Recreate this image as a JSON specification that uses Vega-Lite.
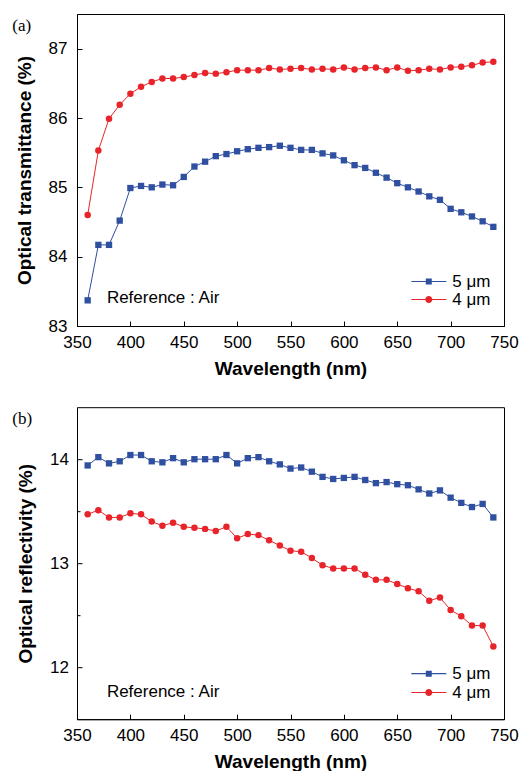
{
  "$schema": "https://vega.github.io/schema/vega-lite/v6.json",
  "padding": {"left": 11, "top": 13, "right": 0, "bottom": 0},
  "spacing": 27.2,
  "resolve": {"scale": {"color": "independent", "shape": "independent"}},
  "config": {
    "font": "Liberation Sans",
    "view": {"stroke": "black", "strokeWidth": 1},
    "axis": {"grid": false, "domainColor": "black", "tickColor": "black", "labelColor": "black", "titleColor": "black", "labelFont": "Liberation Sans", "labelFontSize": 17, "titleFont": "Liberation Sans", "titleFontSize": 19, "titleFontWeight": "bold", "labelFlush": false, "labelOverlap": false, "tickWidth": 1, "domainWidth": 1, "format": "d"},
    "legend": {"symbolSize": 225, "labelOffset": 15, "labelFontSize": 17, "labelFont": "Liberation Sans", "labelColor": "black", "rowPadding": 0, "padding": 0, "symbolStrokeWidth": 0},
    "title": {"font": "Liberation Serif", "fontSize": 17, "fontWeight": "normal", "color": "black", "anchor": "start", "frame": "group", "offset": 0, "dx": -64.7, "dy": 25, "baseline": "alphabetic"}
  },
  "datasets": {
    "trans": [
      {"wl":360,"s":"5 μm","v":83.37},{"wl":370,"s":"5 μm","v":84.17},{"wl":380,"s":"5 μm","v":84.17},{"wl":390,"s":"5 μm","v":84.52},{"wl":400,"s":"5 μm","v":84.99},{"wl":410,"s":"5 μm","v":85.02},{"wl":420,"s":"5 μm","v":85.00},{"wl":430,"s":"5 μm","v":85.04},{"wl":440,"s":"5 μm","v":85.03},{"wl":450,"s":"5 μm","v":85.15},{"wl":460,"s":"5 μm","v":85.30},{"wl":470,"s":"5 μm","v":85.37},{"wl":480,"s":"5 μm","v":85.45},{"wl":490,"s":"5 μm","v":85.48},{"wl":500,"s":"5 μm","v":85.52},{"wl":510,"s":"5 μm","v":85.55},{"wl":520,"s":"5 μm","v":85.57},{"wl":530,"s":"5 μm","v":85.58},{"wl":540,"s":"5 μm","v":85.60},{"wl":550,"s":"5 μm","v":85.57},{"wl":560,"s":"5 μm","v":85.54},{"wl":570,"s":"5 μm","v":85.54},{"wl":580,"s":"5 μm","v":85.49},{"wl":590,"s":"5 μm","v":85.46},{"wl":600,"s":"5 μm","v":85.39},{"wl":610,"s":"5 μm","v":85.32},{"wl":620,"s":"5 μm","v":85.28},{"wl":630,"s":"5 μm","v":85.21},{"wl":640,"s":"5 μm","v":85.14},{"wl":650,"s":"5 μm","v":85.06},{"wl":660,"s":"5 μm","v":85.00},{"wl":670,"s":"5 μm","v":84.94},{"wl":680,"s":"5 μm","v":84.87},{"wl":690,"s":"5 μm","v":84.82},{"wl":700,"s":"5 μm","v":84.69},{"wl":710,"s":"5 μm","v":84.64},{"wl":720,"s":"5 μm","v":84.58},{"wl":730,"s":"5 μm","v":84.51},{"wl":740,"s":"5 μm","v":84.43},
      {"wl":360,"s":"4 μm","v":84.60},{"wl":370,"s":"4 μm","v":85.53},{"wl":380,"s":"4 μm","v":85.99},{"wl":390,"s":"4 μm","v":86.19},{"wl":400,"s":"4 μm","v":86.35},{"wl":410,"s":"4 μm","v":86.45},{"wl":420,"s":"4 μm","v":86.52},{"wl":430,"s":"4 μm","v":86.57},{"wl":440,"s":"4 μm","v":86.57},{"wl":450,"s":"4 μm","v":86.59},{"wl":460,"s":"4 μm","v":86.62},{"wl":470,"s":"4 μm","v":86.65},{"wl":480,"s":"4 μm","v":86.64},{"wl":490,"s":"4 μm","v":86.66},{"wl":500,"s":"4 μm","v":86.69},{"wl":510,"s":"4 μm","v":86.69},{"wl":520,"s":"4 μm","v":86.69},{"wl":530,"s":"4 μm","v":86.72},{"wl":540,"s":"4 μm","v":86.70},{"wl":550,"s":"4 μm","v":86.71},{"wl":560,"s":"4 μm","v":86.72},{"wl":570,"s":"4 μm","v":86.70},{"wl":580,"s":"4 μm","v":86.71},{"wl":590,"s":"4 μm","v":86.70},{"wl":600,"s":"4 μm","v":86.73},{"wl":610,"s":"4 μm","v":86.70},{"wl":620,"s":"4 μm","v":86.72},{"wl":630,"s":"4 μm","v":86.73},{"wl":640,"s":"4 μm","v":86.69},{"wl":650,"s":"4 μm","v":86.73},{"wl":660,"s":"4 μm","v":86.68},{"wl":670,"s":"4 μm","v":86.69},{"wl":680,"s":"4 μm","v":86.71},{"wl":690,"s":"4 μm","v":86.70},{"wl":700,"s":"4 μm","v":86.73},{"wl":710,"s":"4 μm","v":86.74},{"wl":720,"s":"4 μm","v":86.76},{"wl":730,"s":"4 μm","v":86.80},{"wl":740,"s":"4 μm","v":86.81}
    ],
    "refl": [
      {"wl":360,"s":"5 μm","v":13.94},{"wl":370,"s":"5 μm","v":14.02},{"wl":380,"s":"5 μm","v":13.96},{"wl":390,"s":"5 μm","v":13.98},{"wl":400,"s":"5 μm","v":14.04},{"wl":410,"s":"5 μm","v":14.04},{"wl":420,"s":"5 μm","v":13.98},{"wl":430,"s":"5 μm","v":13.97},{"wl":440,"s":"5 μm","v":14.01},{"wl":450,"s":"5 μm","v":13.97},{"wl":460,"s":"5 μm","v":14.00},{"wl":470,"s":"5 μm","v":14.00},{"wl":480,"s":"5 μm","v":14.00},{"wl":490,"s":"5 μm","v":14.04},{"wl":500,"s":"5 μm","v":13.96},{"wl":510,"s":"5 μm","v":14.01},{"wl":520,"s":"5 μm","v":14.02},{"wl":530,"s":"5 μm","v":13.98},{"wl":540,"s":"5 μm","v":13.95},{"wl":550,"s":"5 μm","v":13.91},{"wl":560,"s":"5 μm","v":13.92},{"wl":570,"s":"5 μm","v":13.88},{"wl":580,"s":"5 μm","v":13.83},{"wl":590,"s":"5 μm","v":13.81},{"wl":600,"s":"5 μm","v":13.82},{"wl":610,"s":"5 μm","v":13.83},{"wl":620,"s":"5 μm","v":13.80},{"wl":630,"s":"5 μm","v":13.77},{"wl":640,"s":"5 μm","v":13.78},{"wl":650,"s":"5 μm","v":13.76},{"wl":660,"s":"5 μm","v":13.75},{"wl":670,"s":"5 μm","v":13.71},{"wl":680,"s":"5 μm","v":13.67},{"wl":690,"s":"5 μm","v":13.70},{"wl":700,"s":"5 μm","v":13.63},{"wl":710,"s":"5 μm","v":13.58},{"wl":720,"s":"5 μm","v":13.54},{"wl":730,"s":"5 μm","v":13.57},{"wl":740,"s":"5 μm","v":13.44},
      {"wl":360,"s":"4 μm","v":13.47},{"wl":370,"s":"4 μm","v":13.51},{"wl":380,"s":"4 μm","v":13.44},{"wl":390,"s":"4 μm","v":13.44},{"wl":400,"s":"4 μm","v":13.48},{"wl":410,"s":"4 μm","v":13.47},{"wl":420,"s":"4 μm","v":13.40},{"wl":430,"s":"4 μm","v":13.36},{"wl":440,"s":"4 μm","v":13.39},{"wl":450,"s":"4 μm","v":13.35},{"wl":460,"s":"4 μm","v":13.34},{"wl":470,"s":"4 μm","v":13.33},{"wl":480,"s":"4 μm","v":13.31},{"wl":490,"s":"4 μm","v":13.35},{"wl":500,"s":"4 μm","v":13.24},{"wl":510,"s":"4 μm","v":13.28},{"wl":520,"s":"4 μm","v":13.27},{"wl":530,"s":"4 μm","v":13.22},{"wl":540,"s":"4 μm","v":13.17},{"wl":550,"s":"4 μm","v":13.12},{"wl":560,"s":"4 μm","v":13.11},{"wl":570,"s":"4 μm","v":13.05},{"wl":580,"s":"4 μm","v":12.98},{"wl":590,"s":"4 μm","v":12.95},{"wl":600,"s":"4 μm","v":12.95},{"wl":610,"s":"4 μm","v":12.95},{"wl":620,"s":"4 μm","v":12.89},{"wl":630,"s":"4 μm","v":12.84},{"wl":640,"s":"4 μm","v":12.84},{"wl":650,"s":"4 μm","v":12.80},{"wl":660,"s":"4 μm","v":12.76},{"wl":670,"s":"4 μm","v":12.73},{"wl":680,"s":"4 μm","v":12.64},{"wl":690,"s":"4 μm","v":12.67},{"wl":700,"s":"4 μm","v":12.55},{"wl":710,"s":"4 μm","v":12.49},{"wl":720,"s":"4 μm","v":12.40},{"wl":730,"s":"4 μm","v":12.40},{"wl":740,"s":"4 μm","v":12.20}
    ]
  },
  "vconcat": [
    {
      "width": 427, "height": 312,
      "title": "(a)",
      "data": {"name": "trans"},
      "layer": [
        {
          "mark": {"type": "line", "strokeWidth": 1},
          "encoding": {
            "x": {"field": "wl", "type": "quantitative", "scale": {"domain": [350, 750], "nice": false, "zero": false},
              "axis": {"title": "Wavelength (nm)", "values": [350,375,400,425,450,475,500,525,550,575,600,625,650,675,700,725,750], "labelExpr": "datum.value % 50 === 0 ? datum.label : ''", "tickSize": {"condition": {"test": "datum.value % 50 === 0", "value": -5}, "value": -3}, "labelPadding": 13, "titlePadding": 9}},
            "y": {"field": "v", "type": "quantitative", "scale": {"domain": [83, 87.5], "nice": false, "zero": false},
              "axis": {"title": "Optical transmittance (%)", "values": [83,83.5,84,84.5,85,85.5,86,86.5,87], "labelExpr": "datum.value % 1 === 0 ? datum.label : ''", "tickSize": {"condition": {"test": "datum.value % 1 === 0", "value": -5}, "value": -3}, "labelPadding": 15, "titlePadding": 14}},
            "color": {"field": "s", "type": "nominal", "scale": {"domain": ["5 μm", "4 μm"], "range": ["#2f4fa0", "#e8242a"]}}
          }
        },
        {
          "transform": [{"filter": "datum.s === '5 μm'"}],
          "mark": {"type": "point", "filled": true, "opacity": 1, "size": 40, "shape": "square"},
          "encoding": {
            "x": {"field": "wl", "type": "quantitative"},
            "y": {"field": "v", "type": "quantitative"},
            "color": {"field": "s", "type": "nominal", "scale": {"domain": ["5 μm", "4 μm"], "range": ["#2f4fa0", "#e8242a"]}}
          }
        },
        {
          "transform": [{"filter": "datum.s === '4 μm'"}],
          "mark": {"type": "point", "filled": true, "opacity": 1, "size": 42, "shape": "circle"},
          "encoding": {
            "x": {"field": "wl", "type": "quantitative"},
            "y": {"field": "v", "type": "quantitative"},
            "color": {"field": "s", "type": "nominal", "scale": {"domain": ["5 μm", "4 μm"], "range": ["#2f4fa0", "#e8242a"]}}
          }
        },
        {
          "data": {"values": []},
          "mark": {"type": "point", "filled": true, "opacity": 1},
          "encoding": {
            "color": {"field": "s", "type": "nominal", "scale": {"domain": ["5 μm", "4 μm"], "range": ["#2f4fa0", "#e8242a"]},
              "legend": {"title": null, "orient": "none", "legendX": 343.3, "legendY": 259}},
            "shape": {"field": "s", "type": "nominal", "scale": {"domain": ["5 μm", "4 μm"], "range": ["M-2.33,-0.08H2.33V0.08H-2.33ZM-0.4,-0.4H0.4V0.4H-0.4Z", "M-2.33,-0.08H2.33V0.08H-2.33ZM0.47,0A0.47,0.47,0,1,1,-0.47,0A0.47,0.47,0,1,1,0.47,0Z"]},
              "legend": {"title": null, "orient": "none", "legendX": 343.3, "legendY": 259}}
          }
        },
        {
          "data": {"values": [{"wl": 378, "v": 83.338, "t": "Reference : Air"}]},
          "mark": {"type": "text", "align": "left", "baseline": "alphabetic", "fontSize": 17, "color": "black", "font": "Liberation Sans"},
          "encoding": {"x": {"field": "wl", "type": "quantitative"}, "y": {"field": "v", "type": "quantitative"}, "text": {"field": "t"}}
        }
      ]
    },
    {
      "width": 427, "height": 312,
      "title": "(b)",
      "data": {"name": "refl"},
      "layer": [
        {
          "mark": {"type": "line", "strokeWidth": 1},
          "encoding": {
            "x": {"field": "wl", "type": "quantitative", "scale": {"domain": [350, 750], "nice": false, "zero": false},
              "axis": {"title": "Wavelength (nm)", "values": [350,375,400,425,450,475,500,525,550,575,600,625,650,675,700,725,750], "labelExpr": "datum.value % 50 === 0 ? datum.label : ''", "tickSize": {"condition": {"test": "datum.value % 50 === 0", "value": -5}, "value": -3}, "labelPadding": 13, "titlePadding": 9}},
            "y": {"field": "v", "type": "quantitative", "scale": {"domain": [11.5, 14.5], "nice": false, "zero": false},
              "axis": {"title": "Optical reflectivity (%)", "values": [12,12.5,13,13.5,14], "labelExpr": "datum.value % 1 === 0 ? datum.label : ''", "tickSize": {"condition": {"test": "datum.value % 1 === 0", "value": -5}, "value": -3}, "labelPadding": 13.5, "titlePadding": 14}},
            "color": {"field": "s", "type": "nominal", "scale": {"domain": ["5 μm", "4 μm"], "range": ["#2f4fa0", "#e8242a"]}}
          }
        },
        {
          "transform": [{"filter": "datum.s === '5 μm'"}],
          "mark": {"type": "point", "filled": true, "opacity": 1, "size": 40, "shape": "square"},
          "encoding": {
            "x": {"field": "wl", "type": "quantitative"},
            "y": {"field": "v", "type": "quantitative"},
            "color": {"field": "s", "type": "nominal", "scale": {"domain": ["5 μm", "4 μm"], "range": ["#2f4fa0", "#e8242a"]}}
          }
        },
        {
          "transform": [{"filter": "datum.s === '4 μm'"}],
          "mark": {"type": "point", "filled": true, "opacity": 1, "size": 42, "shape": "circle"},
          "encoding": {
            "x": {"field": "wl", "type": "quantitative"},
            "y": {"field": "v", "type": "quantitative"},
            "color": {"field": "s", "type": "nominal", "scale": {"domain": ["5 μm", "4 μm"], "range": ["#2f4fa0", "#e8242a"]}}
          }
        },
        {
          "data": {"values": []},
          "mark": {"type": "point", "filled": true, "opacity": 1},
          "encoding": {
            "color": {"field": "s", "type": "nominal", "scale": {"domain": ["5 μm", "4 μm"], "range": ["#2f4fa0", "#e8242a"]},
              "legend": {"title": null, "orient": "none", "legendX": 343.3, "legendY": 258, "rowPadding": 0.8}},
            "shape": {"field": "s", "type": "nominal", "scale": {"domain": ["5 μm", "4 μm"], "range": ["M-2.33,-0.08H2.33V0.08H-2.33ZM-0.4,-0.4H0.4V0.4H-0.4Z", "M-2.33,-0.08H2.33V0.08H-2.33ZM0.47,0A0.47,0.47,0,1,1,-0.47,0A0.47,0.47,0,1,1,0.47,0Z"]},
              "legend": {"title": null, "orient": "none", "legendX": 343.3, "legendY": 258, "rowPadding": 0.8}}
          }
        },
        {
          "data": {"values": [{"wl": 378, "v": 11.715, "t": "Reference : Air"}]},
          "mark": {"type": "text", "align": "left", "baseline": "alphabetic", "fontSize": 17, "color": "black", "font": "Liberation Sans"},
          "encoding": {"x": {"field": "wl", "type": "quantitative"}, "y": {"field": "v", "type": "quantitative"}, "text": {"field": "t"}}
        }
      ]
    }
  ]
}
